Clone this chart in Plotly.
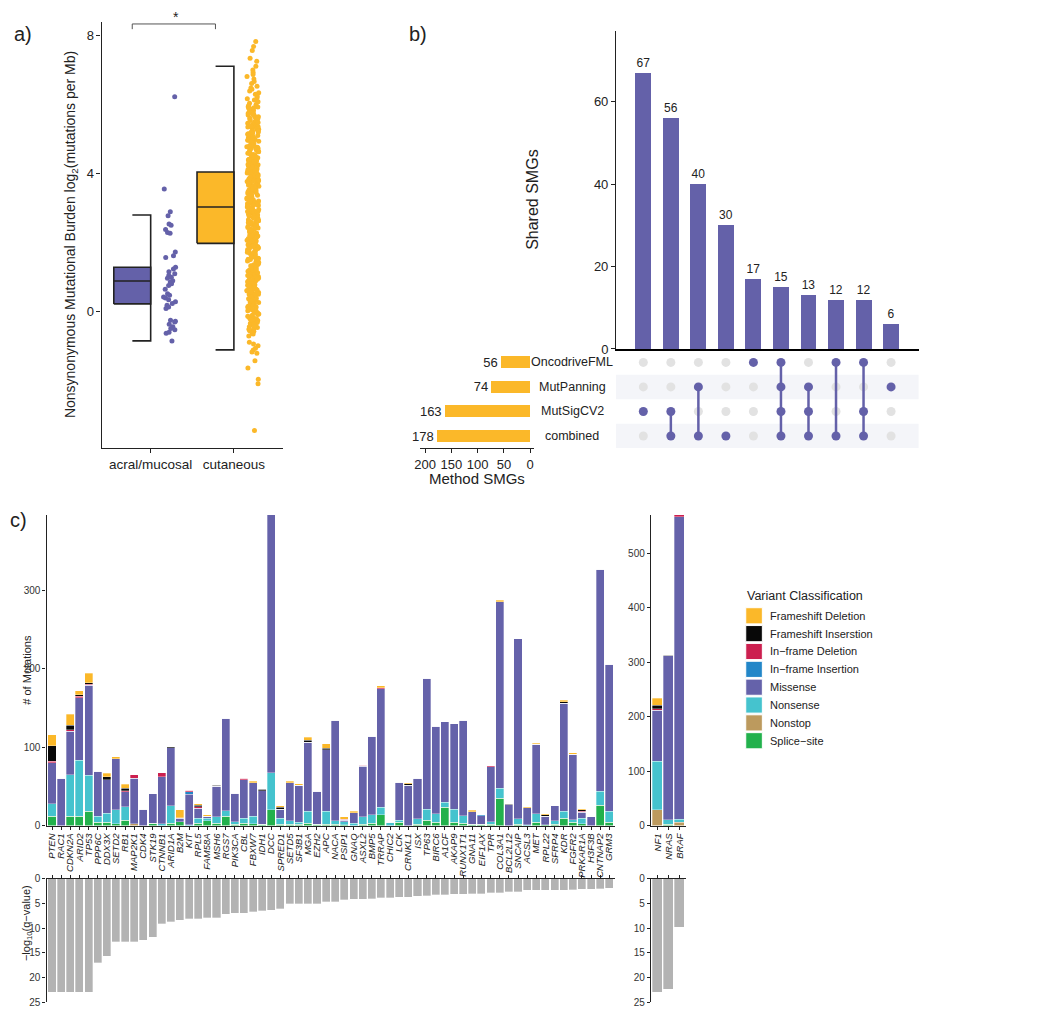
import math
import plotly.graph_objects as go

# The page body has an 8px default margin, so the figure is drawn 8px in from the corner.
OFF = 8
W, H = 1050 - 2 * OFF, 1021 - 2 * OFF
FONT = "Liberation Sans, Arial, Helvetica, sans-serif"
PURPLE = "#6461A9"
ORANGE = "#FBB829"
INK = "#222222"

def PX(x):
    return (x - OFF) / W

def PY(y):
    return 1 - (y - OFF) / H

# ---------------- Panel a data ----------------
groups = ["acral/mucosal", "cutaneous"]
group_colors = [PURPLE, ORANGE]
box_q1 = [0.23, 1.98]
box_median = [0.89, 3.03]
box_q3 = [1.29, 4.04]
whisker_low = [-0.84, -1.10]
whisker_high = [2.80, 7.10]

acral_values = [6.22, 3.55, 2.89, 2.78, 2.54, 2.50, 2.38, 2.29, 2.27, 1.73, 1.62, 1.57,
                1.29, 1.24, 1.16, 1.10, 1.05, 1.00, 0.97, 0.90, 0.86, 0.81, 0.76, 0.65,
                0.52, 0.48, 0.43, 0.40, 0.35, 0.29, 0.24, 0.19, 0.14, 0.10, -0.24, -0.27,
                -0.29, -0.36, -0.43, -0.48, -0.52, -0.59, -0.62, -0.84]

cutaneous_values = [
    7.81, 7.67, 7.55, 7.33, 7.24, 7.10, 6.99, 6.92, 6.86, 6.80, 6.73, 6.66, 6.60, 6.52,
    6.47, 6.43, 6.38, 6.33, 6.29, 6.24, 6.19, 6.16, 6.12, 6.07, 6.03,
    5.99, 5.96, 5.92, 5.88, 5.86, 5.81, 5.78, 5.76, 5.72, 5.69, 5.66, 5.64, 5.60, 5.57,
    5.55, 5.51, 5.49, 5.45, 5.42, 5.40, 5.37, 5.34, 5.31, 5.28, 5.26, 5.22, 5.19, 5.17,
    5.13, 5.10, 5.08, 5.05, 5.02, 5.90, 5.71, 5.53, 5.35, 5.20, 5.04,
    4.98, 4.96, 4.93, 4.90, 4.87, 4.85, 4.82, 4.79, 4.77, 4.74, 4.71, 4.68, 4.66, 4.63,
    4.60, 4.58, 4.55, 4.52, 4.50, 4.47, 4.44, 4.42, 4.39, 4.36, 4.33, 4.31, 4.28, 4.25,
    4.23, 4.20, 4.17, 4.14, 4.12, 4.09, 4.06, 4.03, 4.01, 4.92, 4.76, 4.61, 4.45, 4.30,
    4.15, 4.05,
    3.98, 3.96, 3.93, 3.90, 3.88, 3.85, 3.82, 3.80, 3.77, 3.74, 3.71, 3.69, 3.66, 3.63,
    3.61, 3.58, 3.55, 3.53, 3.50, 3.47, 3.45, 3.42, 3.39, 3.37, 3.34, 3.31, 3.29, 3.26,
    3.23, 3.21, 3.18, 3.15, 3.13, 3.10, 3.07, 3.05, 3.02, 3.94, 3.78, 3.62, 3.46, 3.30,
    3.14, 3.00, 3.86, 3.52, 3.20,
    2.98, 2.95, 2.93, 2.90, 2.87, 2.85, 2.82, 2.79, 2.77, 2.74, 2.71, 2.69, 2.66, 2.63,
    2.61, 2.58, 2.55, 2.53, 2.50, 2.47, 2.45, 2.42, 2.39, 2.37, 2.34, 2.31, 2.29, 2.26,
    2.23, 2.21, 2.18, 2.15, 2.13, 2.10, 2.07, 2.05, 2.02, 2.91, 2.75, 2.59, 2.43, 2.27,
    2.11, 2.00, 2.83, 2.52, 2.19,
    1.97, 1.94, 1.91, 1.89, 1.86, 1.83, 1.80, 1.77, 1.75, 1.72, 1.69, 1.66, 1.63, 1.60,
    1.58, 1.55, 1.52, 1.49, 1.46, 1.43, 1.41, 1.38, 1.35, 1.32, 1.29, 1.27, 1.24, 1.21,
    1.18, 1.15, 1.12, 1.10, 1.07, 1.04, 1.01, 1.88, 1.71, 1.54, 1.37, 1.20, 1.05,
    0.98, 0.95, 0.92, 0.89, 0.86, 0.83, 0.80, 0.77, 0.74, 0.71, 0.68, 0.65, 0.62, 0.59,
    0.56, 0.53, 0.50, 0.47, 0.44, 0.41, 0.38, 0.35, 0.32, 0.29, 0.26, 0.23, 0.20, 0.17,
    0.14, 0.11, 0.08, 0.05, 0.02, 0.90, 0.60, 0.30,
    -0.02, -0.06, -0.10, -0.13, -0.17, -0.21, -0.25, -0.29, -0.33, -0.37, -0.41, -0.45,
    -0.48, -0.52, -0.55, -0.60, -0.64, -0.20, -0.40,
    -0.88, -0.93, -0.98, -1.05, -1.10, -1.16, -1.20, -1.41, -1.62, -1.95, -2.08, -3.43,
    5.93, 5.87, 5.74, 5.62, 5.58, 5.47, 5.38, 5.29, 5.23, 5.15, 5.07, 5.00,
    4.97, 4.91, 4.84, 4.80, 4.73, 4.69, 4.64, 4.57, 4.53, 4.48, 4.41, 4.37, 4.34, 4.26,
    4.22, 4.18, 4.11, 4.07, 4.02,
    3.99, 3.92, 3.89, 3.83, 3.79, 3.75, 3.72, 3.67, 3.64, 3.59, 3.56, 3.49, 3.44, 3.41,
    3.36, 3.33, 3.27, 3.24, 3.19, 3.16, 3.11, 3.08, 3.03,
    2.99, 2.96, 2.92, 2.88, 2.84, 2.80, 2.76, 2.72, 2.67, 2.64, 2.60, 2.56, 2.51, 2.48,
    2.44, 2.40, 2.35, 2.32, 2.28, 2.24, 2.20, 2.16, 2.12, 2.08, 2.04, 2.01,
    1.98, 1.93, 1.90, 1.85, 1.82, 1.78, 1.74, 1.70, 1.67, 1.64, 1.59, 1.56, 1.51, 1.47,
    1.44, 1.40, 1.36, 1.33, 1.28, 1.25, 1.22, 1.17, 1.13, 1.09, 1.06, 1.02,
    0.99, 0.94, 0.90, 0.87, 0.82, 0.78, 0.75, 0.70, 0.66, 0.63, 0.58, 0.55, 0.51, 0.48,
    0.43, 0.39, 0.36, 0.31, 0.27, 0.24, 0.19, 0.15, 0.12, 0.07, 0.03,
    -0.04, -0.08, -0.15, -0.19, -0.23, -0.27, -0.31, -0.35, -0.39, -0.43, -0.50, -0.57,
    -0.62, -0.70,
]
group_values = [acral_values, cutaneous_values]

# ---------------- Panel b data ----------------
intersection_sizes = [67, 56, 40, 30, 17, 15, 13, 12, 12, 6]
set_names = ["OncodriveFML", "MutPanning", "MutSigCV2", "combined"]
set_sizes = [56, 74, 163, 178]
member_oncodrive = [0, 0, 0, 0, 1, 1, 0, 1, 1, 0]
member_mutpanning = [0, 0, 1, 0, 0, 1, 1, 0, 0, 1]
member_mutsig = [1, 1, 0, 0, 0, 1, 1, 0, 1, 0]
member_combined = [0, 1, 1, 1, 0, 1, 1, 1, 1, 0]
membership = [member_oncodrive, member_mutpanning, member_mutsig, member_combined]
set_rows = [3, 2, 1, 0]

# ---------------- Panel c data ----------------
genes_left = ["PTEN", "RAC1", "CDKN2A", "ARID2", "TP53", "PPP6C", "DDX3X", "SETD2", "RB1", "MAP2K1",
              "CDK4", "STK19", "CTNNB1", "ARID1A", "B2M", "KIT", "RPL5", "FAM58A", "MSH6", "RGS7",
              "PIK3CA", "CBL", "FBXW7", "IDH1", "DCC", "SPRED1", "SETD5", "SF3B1", "MGA", "EZH2",
              "APC", "NACA", "PSIP1", "GNAQ", "ASXL2", "BMP5", "TRRAP", "CHIC2", "LCK", "CRNKL1",
              "ISX", "TP63", "BIRC6", "A1CF", "AKAP9", "RUNX1T1", "GNA11", "EIF1AX", "TPR", "COL3A1",
              "BCL2L12", "SNCAIP", "ACSL3", "MET", "RPL22", "SFRP4", "KDR", "FGFR2", "PRKAR1A", "H3F3B",
              "CNTNAP2", "GRM3"]
genes_right = ["NF1", "NRAS", "BRAF"]

left_splice = [12, 0, 12, 12, 18, 4, 4, 2, 7, 0,
               0, 3, 0, 3, 5, 0, 3, 6, 3, 12,
               1.5, 3, 2, 1.5, 20, 1.5, 1.5, 1.5, 3, 1.5,
               1.5, 1.5, 1.3, 0, 1.5, 3, 13.5, 0, 4, 0,
               1.5, 7, 4, 23, 4, 3, 1.5, 1.5, 1.5, 35,
               0, 1.5, 0, 4.5, 1, 1.5, 9.5, 4, 2, 0,
               26, 4]
left_nonstop = [0, 0, 0, 0, 0, 0, 0, 0, 0, 2,
                0, 0, 0, 0, 0, 0, 0, 0, 0, 0,
                0, 0, 0, 0, 0, 0, 0, 0, 0, 0,
                0, 0, 0, 0, 0, 0, 0, 0, 0, 0,
                0, 0, 0, 0, 0, 0, 0, 0, 0, 0,
                0, 0, 0, 0, 0, 0, 0, 0, 0, 0,
                0, 0]
left_nonsense = [16, 0, 53, 71, 46, 8, 11.5, 18, 17, 0,
                 0, 0, 2, 22, 0, 1, 6, 3, 8.5, 7,
                 3.5, 6.5, 10, 0, 47.5, 8, 4.5, 2.5, 15.5, 0,
                 17, 4.5, 3.3, 3, 10, 11, 10, 4, 3, 0,
                 7, 14, 11, 6.5, 16.5, 9.5, 0, 0, 3.5, 12.5,
                 0, 7, 1, 10.5, 0, 4.5, 8.5, 3.5, 7, 0,
                 18, 14]
left_missense = [52, 60, 55, 80, 115, 57, 43, 65, 19, 58,
                 21, 37.5, 60, 74, 4, 39, 13, 3, 38.5, 117.5,
                 36, 49, 42.5, 43, 328.5, 11, 48.5, 47.5, 88, 42,
                 78, 128, 2.4, 13, 64, 100, 151, 0, 48.5, 51.5,
                 51.5, 166.5, 111.5, 103, 109.5, 121.5, 16, 11, 70, 237.5,
                 26.5, 229.5, 21.5, 88.5, 11, 19.5, 138, 83.5, 8, 11,
                 283, 187.5]
left_inframe_ins = [0, 0, 0, 0, 0, 0, 0, 0, 0, 0,
                    0, 0, 0, 0, 0, 3, 0, 0, 0, 0,
                    0, 0, 0, 0, 0, 0, 0, 0, 0, 0,
                    0, 0, 0, 0, 0, 0, 0, 0, 0, 0,
                    0, 0, 0, 0, 0, 0, 0, 1, 0, 0,
                    0, 0, 0, 0, 0, 0, 0, 0, 0, 0,
                    0, 0]
left_inframe_del = [2, 0, 2, 2, 1, 0, 0, 0, 1.5, 5,
                    0, 0, 5.5, 0, 1, 2, 2, 0, 0, 0,
                    0, 2, 0, 0, 0, 0, 0, 0, 0, 0,
                    0, 0, 0.8, 0, 1.5, 0, 1, 0, 0, 0,
                    0, 0, 0, 0, 0, 0, 0, 0, 1.5, 0,
                    0, 0, 0, 0, 0, 0, 0, 0, 1.5, 0,
                    0, 0]
left_frameshift_ins = [20, 0, 6, 2, 2, 0, 4, 0, 3, 0,
                       0, 0, 0, 1.5, 0, 0, 2, 0, 1.5, 0,
                       0, 0, 0, 1.5, 0, 3, 0, 0, 2, 0,
                       2, 0, 0, 0, 0, 0, 0, 0, 0, 1.5,
                       0, 0, 0, 0, 0, 0, 0, 0, 0, 0.5,
                       0.5, 0, 0, 0, 1.5, 0, 2, 0, 1.5, 0,
                       0, 0]
left_frameshift_del = [14, 0, 14, 5, 12, 0, 4, 2.5, 5, 0,
                       0, 0, 0, 0, 10, 0, 1.5, 2, 0, 0,
                       0, 0, 2, 0, 0, 1.5, 2, 2, 4, 0,
                       5.5, 0, 3.2, 2.5, 0, 0, 3, 0, 0, 1.5,
                       0, 0, 1, 0, 0, 0, 2, 0, 0, 2,
                       1, 0, 1.5, 1.5, 1.5, 0, 2, 1.5, 1.5, 0,
                       0, 0]

right_splice = [0, 2, 0]
right_nonstop = [29, 0, 6]
right_nonsense = [89, 9, 6]
right_missense = [94, 301, 555.7]
right_inframe_ins = [0, 0, 0]
right_inframe_del = [3, 0, 3]
right_frameshift_ins = [6, 1, 0]
right_frameshift_del = [13, 0, 0]

qvalue_left = [23, 23, 23, 23, 23, 17, 15.7, 12.8, 12.8, 12.8,
               12.5, 11.9, 9.1, 8.7, 8.4, 8.1, 8.1, 7.9, 7.9, 7.2,
               7.0, 7.0, 6.7, 6.5, 6.4, 6.1, 5.1, 5.1, 5.1, 5.1,
               4.7, 4.7, 4.3, 4.2, 4.2, 4.0, 3.8, 3.8, 3.7, 3.7,
               3.5, 3.4, 3.2, 3.2, 3.1, 3.1, 3.0, 3.0, 2.8, 2.8,
               2.6, 2.6, 2.3, 2.3, 2.3, 2.3, 2.3, 2.2, 2.1, 2.1,
               2.0, 1.9]
qvalue_right = [23, 22.4, 9.8]

classes = ["Frameshift Deletion", "Frameshift Inserstion", "In\u2212frame Deletion",
           "In\u2212frame Insertion", "Missense", "Nonsense", "Nonstop", "Splice\u2212site"]
class_colors = ["#FBB829", "#080808", "#CC1F4F", "#2286C8", "#6562AA", "#45C3CE", "#BC9A5E", "#22B14C"]

left_by_class = [left_frameshift_del, left_frameshift_ins, left_inframe_del, left_inframe_ins,
                 left_missense, left_nonsense, left_nonstop, left_splice]
right_by_class = [right_frameshift_del, right_frameshift_ins, right_inframe_del, right_inframe_ins,
                  right_missense, right_nonsense, right_nonstop, right_splice]

fig = go.Figure()

# ---------------- Panel a ----------------
def jitter(i, seed):
    v = math.sin((i + 1) * 12.9898 + seed * 78.233) * 43758.5453
    return v - math.floor(v)

for gi, g in enumerate(groups):
    c = gi + 1
    x0, x1 = c - 0.443, c
    fig.add_trace(go.Scatter(
        x=[x1 - 0.22, x1, x1, x1 - 0.22],
        y=[whisker_low[gi], whisker_low[gi], whisker_high[gi], whisker_high[gi]],
        mode="lines", line=dict(color=INK, width=1.6), xaxis="x", yaxis="y",
        showlegend=False, hoverinfo="skip"))
    fig.add_trace(go.Scatter(
        x=[x0, x1, x1, x0, x0],
        y=[box_q1[gi], box_q1[gi], box_q3[gi], box_q3[gi], box_q1[gi]],
        mode="lines", fill="toself", fillcolor=group_colors[gi],
        line=dict(color=INK, width=1.6), xaxis="x", yaxis="y",
        showlegend=False, hoverinfo="skip"))
    fig.add_trace(go.Scatter(
        x=[x0, x1], y=[box_median[gi], box_median[gi]],
        mode="lines", line=dict(color=INK, width=1.6), xaxis="x", yaxis="y",
        showlegend=False, hoverinfo="skip"))
    vals = group_values[gi]
    xs = [c + 0.155 + 0.145 * jitter(i, gi) for i in range(len(vals))]
    fig.add_trace(go.Scatter(
        x=xs, y=vals, mode="markers",
        marker=dict(color=group_colors[gi], size=5, line=dict(width=0)),
        xaxis="x", yaxis="y", showlegend=False, cliponaxis=False))

fig.add_trace(go.Scatter(
    x=[1 - 0.2215, 1 - 0.2215, 2 - 0.2215, 2 - 0.2215], y=[8.17, 8.32, 8.32, 8.17],
    mode="lines", line=dict(color="#555555", width=1), xaxis="x", yaxis="y",
    showlegend=False, cliponaxis=False, hoverinfo="skip"))

# ---------------- Panel b ----------------
cols = list(range(len(intersection_sizes)))
fig.add_trace(go.Bar(
    x=cols, y=intersection_sizes, width=0.58, marker=dict(color=PURPLE, line=dict(width=0)),
    text=[str(v) for v in intersection_sizes], textposition="outside", constraintext="none",
    textfont=dict(size=12, color=INK, family=FONT), cliponaxis=False,
    xaxis="x2", yaxis="y2", showlegend=False))

gx, gy, px_, py_ = [], [], [], []
for r, row in enumerate(membership):
    for ci, m in enumerate(row):
        if m:
            px_.append(ci); py_.append(set_rows[r])
        else:
            gx.append(ci); gy.append(set_rows[r])
fig.add_trace(go.Scatter(x=gx, y=gy, mode="markers",
                         marker=dict(color="#e2e2e2", size=9, line=dict(width=0)),
                         xaxis="x3", yaxis="y3", showlegend=False, hoverinfo="skip"))
for ci in cols:
    ys = [set_rows[r] for r in range(len(membership)) if membership[r][ci]]
    if len(ys) > 1:
        fig.add_trace(go.Scatter(x=[ci, ci], y=[min(ys), max(ys)], mode="lines",
                                 line=dict(color=PURPLE, width=2.5),
                                 xaxis="x3", yaxis="y3", showlegend=False, hoverinfo="skip"))
fig.add_trace(go.Scatter(x=px_, y=py_, mode="markers",
                         marker=dict(color=PURPLE, size=9, line=dict(width=0)),
                         xaxis="x3", yaxis="y3", showlegend=False))

fig.add_trace(go.Bar(
    x=set_sizes, y=set_rows, orientation="h", width=0.49,
    marker=dict(color=ORANGE, line=dict(width=0)),
    text=[str(v) for v in set_sizes], textposition="outside", constraintext="none",
    textfont=dict(size=13, color=INK, family=FONT), cliponaxis=False,
    xaxis="x4", yaxis="y4", showlegend=False))

# ---------------- Panel c ----------------
bar_line = dict(color="rgba(255,255,255,0.45)", width=0.7)
stack_order = list(range(len(classes)))[::-1]  # bottom -> top
for k in stack_order:
    fig.add_trace(go.Bar(x=list(range(len(genes_left))), y=left_by_class[k], width=0.88,
                         marker=dict(color=class_colors[k], line=bar_line), name=classes[k],
                         xaxis="x5", yaxis="y5", showlegend=False))
    fig.add_trace(go.Bar(x=list(range(len(genes_right))), y=right_by_class[k], width=0.91,
                         marker=dict(color=class_colors[k], line=bar_line), name=classes[k],
                         xaxis="x6", yaxis="y6", showlegend=False))

fig.add_trace(go.Bar(x=list(range(len(genes_left))), y=qvalue_left, width=0.88,
                     marker=dict(color="#b3b3b3", line=bar_line),
                     xaxis="x7", yaxis="y7", showlegend=False))
fig.add_trace(go.Bar(x=list(range(len(genes_right))), y=qvalue_right, width=0.91,
                     marker=dict(color="#b3b3b3", line=bar_line),
                     xaxis="x8", yaxis="y8", showlegend=False))

left_totals = [sum(vals[i] for vals in left_by_class) for i in range(len(genes_left))]
right_totals = [sum(vals[i] for vals in right_by_class) for i in range(len(genes_right))]

# ---------------- Layout ----------------
axis_common = dict(showgrid=False, zeroline=False, showline=True, linecolor=INK, linewidth=1.2,
                   ticks="outside", ticklen=4, tickcolor=INK, tickwidth=1)
axis_c = dict(axis_common, ticklen=3)

layout = dict(
    width=W, height=H, margin=dict(l=0, r=0, t=0, b=0),
    paper_bgcolor="white", plot_bgcolor="white",
    font=dict(family=FONT, color=INK), barmode="stack", showlegend=False,
    xaxis=dict(domain=[PX(97), PX(279.3)], range=[0.41, 2.59], tickvals=[1, 2], ticktext=groups,
               tickfont=dict(size=13.5, color=INK), anchor="y", **axis_common),
    yaxis=dict(domain=[PY(448.3), PY(16)], range=[-3.94, 8.38], tickvals=[0, 4, 8],
               tickfont=dict(size=13, color=INK), anchor="x", **axis_common),
    xaxis2=dict(domain=[PX(614), PX(918)], range=[-0.99, 10.0], showgrid=False, zeroline=False,
                showline=True, linecolor="black", linewidth=1.5, ticks="", showticklabels=False,
                anchor="y2"),
    yaxis2=dict(domain=[PY(347.7), PY(25)], range=[0, 77.2], tickvals=[0, 20, 40, 60],
                tickfont=dict(size=13, color=INK), anchor="x2", **axis_common),
    xaxis3=dict(domain=[PX(614), PX(918)], range=[-0.99, 10.0], visible=False, anchor="y3"),
    yaxis3=dict(domain=[PY(448.4), PY(348.9)], range=[-0.5, 3.5], visible=False, anchor="x3"),
    xaxis4=dict(domain=[PX(416.7), PX(531.7)], range=[210.4, -7.6],
                tickvals=[200, 150, 100, 50, 0], tickfont=dict(size=13, color=INK),
                anchor="y4", **axis_common),
    yaxis4=dict(domain=[PY(448.4), PY(348.9)], range=[-0.5, 3.5], visible=False, anchor="x4"),
    xaxis5=dict(domain=[PX(41.7), PX(612.8)], range=[-0.6, len(genes_left) - 0.4],
                tickvals=list(range(len(genes_left))), ticktext=["<i>%s</i>" % g for g in genes_left],
                tickangle=-90, tickfont=dict(size=9.5, color=INK), anchor="y5", **axis_c),
    yaxis5=dict(domain=[PY(831), PY(516)], range=[0, max(left_totals)], tickvals=[0, 100, 200, 300],
                tickfont=dict(size=10, color="#333"), anchor="x5", **axis_c),
    xaxis6=dict(domain=[PX(649), PX(684.3)], range=[-0.6, len(genes_right) - 0.4],
                tickvals=list(range(len(genes_right))), ticktext=["<i>%s</i>" % g for g in genes_right],
                tickangle=-90, tickfont=dict(size=9.5, color=INK), anchor="y6", **axis_c),
    yaxis6=dict(domain=[PY(831), PY(516)], range=[0, max(right_totals)],
                tickvals=[0, 100, 200, 300, 400, 500],
                tickfont=dict(size=10, color="#333"), anchor="x6", **axis_c),
    xaxis7=dict(domain=[PX(41.7), PX(612.8)], range=[-0.6, len(genes_left) - 0.4],
                tickvals=list(range(len(genes_left))), showticklabels=False, side="top",
                anchor="y7", **axis_c),
    yaxis7=dict(domain=[PY(1010), PY(885)], range=[25, 0], tickvals=[0, 5, 10, 15, 20, 25],
                tickfont=dict(size=10, color="#333"), anchor="x7", **axis_c),
    xaxis8=dict(domain=[PX(649), PX(684.3)], range=[-0.6, len(genes_right) - 0.4],
                tickvals=list(range(len(genes_right))), showticklabels=False, side="top",
                anchor="y8", **axis_c),
    yaxis8=dict(domain=[PY(1010), PY(885)], range=[25, 0], tickvals=[0, 5, 10, 15, 20, 25],
                tickfont=dict(size=10, color="#333"), anchor="x8", **axis_c),
)
fig.update_layout(**layout)

shapes = []
for yc in (2, 0):
    shapes.append(dict(type="rect", xref="x3 domain", yref="y3", x0=0, x1=1, y0=yc - 0.5, y1=yc + 0.5,
                       fillcolor="#f4f5f9", line=dict(width=0), layer="below"))
legend_y = [618.3, 636.4, 654.5, 672.6, 690.7, 708.8, 726.9, 745.0]
for k, yc in enumerate(legend_y):
    shapes.append(dict(type="rect", xref="paper", yref="paper",
                       x0=PX(744.3), x1=PX(761), y0=PY(yc + 8.2), y1=PY(yc - 8.2),
                       fillcolor=class_colors[k], line=dict(color="white", width=1)))
fig.update_layout(shapes=shapes)

ann = []
def A(text, x, y, size, xanchor="center", yanchor="middle", yref="paper", **kw):
    d = dict(text=text, x=x, y=y, xref="paper", yref=yref, showarrow=False,
             xanchor=xanchor, yanchor=yanchor,
             font=dict(size=size, color=INK, family=FONT))
    d.update(kw)
    ann.append(d)

A("a)", PX(18), PY(28), 20)
A("b)", PX(415), PY(28), 20)
A("c)", PX(14), PY(521), 20)
A("*", PX(171.7), PY(11), 14)
A("Nonsynonymous Mutational Burden log<sub>2</sub>(mutations per Mb)", PX(66.5), PY(232), 14,
  textangle=-90)
A("Shared SMGs", PX(530), PY(196), 16, textangle=-90)
A("Method SMGs", PX(474), PY(479), 15)
for r, name in enumerate(set_names):
    A(name, PX(570), set_rows[r], 12.5, yref="y3")
A("# of Mutations", PX(22), PY(673), 11, textangle=-90)
A("\u2212log<sub>10</sub>(q\u2212value)", PX(22), PY(930), 11, textangle=-90)
A("Variant Classification", PX(744), PY(598), 12.5, xanchor="left")
for k, yc in enumerate(legend_y):
    A(classes[k], PX(767), PY(yc), 11, xanchor="left")
fig.update_layout(annotations=ann)

fig.write_html("out.html")
